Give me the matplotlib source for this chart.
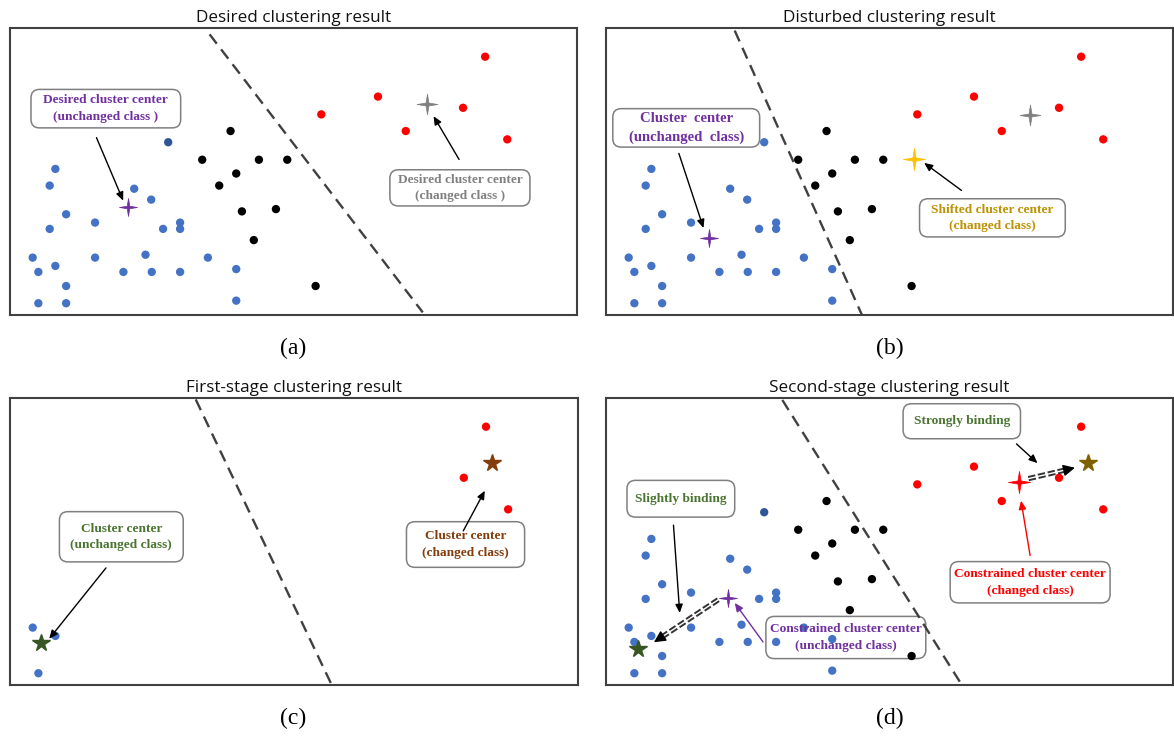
import matplotlib
matplotlib.use("Agg")
import matplotlib.pyplot as plt
from matplotlib.patches import FancyBboxPatch
from matplotlib.path import Path
import numpy as np

# ---------------- data (normalized frame coordinates 0..100) ----------------
blue_x = [27.9, 8.0, 7.0, 21.9, 24.9, 9.9, 15.0, 7.0, 27.0, 30.0, 30.0, 4.0, 15.0,
          23.9, 34.9, 8.0, 5.0, 20.0, 25.0, 30.0, 39.9, 9.9, 5.0, 9.9, 39.9]
blue_y = [60.2, 50.9, 45.1, 44.0, 40.2, 35.1, 32.2, 30.0, 30.0, 32.2, 30.0, 20.0, 20.0,
          21.0, 20.0, 17.1, 15.0, 15.0, 15.0, 15.0, 16.0, 10.1, 4.1, 4.1, 5.0]
black_x = [38.9, 33.9, 43.9, 48.9, 39.9, 36.9, 40.9, 46.9, 43.0, 53.9]
black_y = [64.1, 54.1, 54.1, 54.1, 49.3, 45.1, 36.1, 36.9, 26.1, 10.1]
red_x = [83.8, 64.9, 54.9, 79.9, 69.8, 87.7]
red_y = [90.0, 76.1, 69.9, 72.2, 64.1, 61.2]

# first-stage subsets
blue_c_x = [4.0, 8.0, 5.0]
blue_c_y = [20.0, 17.1, 4.1]
red_c_x = [83.8, 79.9, 87.7]
red_c_y = [90.0, 72.2, 61.2]

# cluster centres per panel
center_a_purple = (20.8, 37.6)
center_a_gray = (73.5, 73.4)
center_b_purple = (18.2, 27.0)
center_b_gray = (74.8, 69.6)
center_b_gold = (54.4, 54.3)
center_c_green = (5.5, 14.8)
center_c_brown = (84.8, 77.5)
center_d_purple = (21.6, 30.3)
center_d_green = (5.7, 12.7)
center_d_red = (72.9, 70.8)
center_d_olive = (85.0, 77.3)

# decision boundaries (start, end)
bound_a = [(35.2, 97.8), (72.8, 0.9)]
bound_b = [(22.7, 99.1), (45.1, 0.2)]
bound_c = [(32.7, 99.5), (56.5, 0.6)]
bound_d = [(31.1, 99.3), (62.7, 0.2)]

titles = ["Desired clustering result", "Disturbed clustering result",
          "First-stage clustering result", "Second-stage clustering result"]
panel_labels = ["(a)", "(b)", "(c)", "(d)"]

# ---------------- style ----------------
BLUE = "#4472C4"
DARKBLUE = "#2F5597"
RED = "#FF0000"
PURPLE = "#7030A0"
GRAY = "#808080"
GOLD = "#FFC000"
GOLDTXT = "#BF9000"
GREENTXT = "#4A7530"
GREENSTAR = "#375623"
BROWN = "#843C0C"
OLIVE = "#7F6000"
FRAME = "#404040"

SERIF = ["Liberation Serif", "DejaVu Serif"]
SANS = ["Open Sans", "DejaVu Sans"]

W, H = 1174, 737
fig = plt.figure(figsize=(W / 100, H / 100), dpi=100)

rects = [(10, 28, 567, 287), (606, 28, 567, 287), (10, 398, 568, 287), (606, 398, 567, 287)]
label_pos = [(293, 348), (890, 348), (293, 718), (890, 718)]
box_aspect = {}

# 4-point star marker
s_in = 0.14
cross_path = Path([(0, 1), (s_in, s_in), (1, 0), (s_in, -s_in), (0, -1), (-s_in, -s_in),
                   (-1, 0), (-s_in, s_in), (0, 1)],
                  [Path.MOVETO] + [Path.LINETO] * 7 + [Path.CLOSEPOLY])


def make_ax(i):
    x0, y0, w, h = rects[i]
    ax = fig.add_axes([x0 / W, 1 - (y0 + h) / H, w / W, h / H])
    ax.set_xlim(0, 100)
    ax.set_ylim(0, 100)
    ax.set_xticks([])
    ax.set_yticks([])
    for sp in ax.spines.values():
        sp.set_color(FRAME)
        sp.set_linewidth(1.5)
    ax.set_title(titles[i], fontsize=12.3, family=SANS, pad=4, color="#111111")
    lx, ly = label_pos[i]
    fig.text(lx / W, 1 - ly / H, panel_labels[i], fontsize=17, family=SERIF,
             ha="center", va="center")
    box_aspect[ax] = (w / 100) / (h / 100)
    return ax


def boundary(ax, b):
    (xa, ya), (xb, yb) = b
    ax.plot([xa, xb], [ya, yb], color="#404040", lw=1.7, ls=(0, (5, 3)), zorder=2)


def dots(ax, xs, ys, color, first_color=None):
    cols = [color] * len(xs)
    if first_color is not None:
        cols[0] = first_color
    ax.scatter(xs, ys, s=36, c=cols, marker="o", linewidths=0, zorder=3)


def cross(ax, p, color, size):
    ax.plot([p[0]], [p[1]], marker=cross_path, ms=size, color=color, mec=color, mew=0.5,
            ls="none", zorder=4)


def star(ax, p, color, size=13):
    ax.plot([p[0]], [p[1]], marker="*", ms=size, color=color, mec=color, ls="none", zorder=4)


def box(ax, ext, text, color, fs=9.6):
    u0, u1, v0, v1 = ext
    p = FancyBboxPatch((u0, v0), u1 - u0, v1 - v0,
                       boxstyle="round,pad=0,rounding_size=1.5",
                       mutation_aspect=box_aspect[ax], fc="white", ec="#7F7F7F", lw=1.1,
                       zorder=1)
    ax.add_patch(p)
    ax.text((u0 + u1) / 2, (v0 + v1) / 2, text, color=color, fontsize=fs, family=SERIF,
            weight="bold", ha="center", va="center", linespacing=1.5, zorder=6)


def arrow(ax, start, end, color="black", lw=1.0):
    ax.annotate("", xy=end, xytext=start,
                arrowprops=dict(arrowstyle="-|>,head_length=0.5,head_width=0.22",
                                color=color, lw=lw, shrinkA=0, shrinkB=0), zorder=5)


def double_arrow(ax, start, end):
    sx, sy = start
    ex, ey = end
    f = 0.86
    mx, my = sx + (ex - sx) * f, sy + (ey - sy) * f
    ax.plot([sx, mx], [sy, my], color="#333333", lw=3.8, ls=(0, (1.4, 0.5)),
            solid_capstyle="butt", zorder=5)
    ax.plot([sx, mx], [sy, my], color="white", lw=1.0, zorder=5)
    ax.annotate("", xy=end, xytext=(mx, my),
                arrowprops=dict(arrowstyle="-|>,head_length=0.7,head_width=0.35",
                                color="black", lw=1.0, shrinkA=0, shrinkB=0), zorder=5)


# ---------------- (a) ----------------
ax = make_ax(0)
boundary(ax, bound_a)
dots(ax, blue_x, blue_y, BLUE, DARKBLUE)
dots(ax, black_x, black_y, "black")
dots(ax, red_x, red_y, RED)
cross(ax, center_a_purple, PURPLE, 13)
cross(ax, center_a_gray, GRAY, 15)
box(ax, (3.7, 30.1, 65.2, 78.6), "Desired cluster center\n(unchanged class )", PURPLE)
arrow(ax, (15.25, 61.8), (19.96, 39.84))
box(ax, (67.0, 91.7, 38.0, 50.6), "Desired cluster center\n(changed class )", GRAY)
arrow(ax, (79.2, 54.2), (74.7, 69.3))

# ---------------- (b) ----------------
ax = make_ax(1)
boundary(ax, bound_b)
dots(ax, blue_x, blue_y, BLUE)
dots(ax, black_x, black_y, "black")
dots(ax, red_x, red_y, RED)
cross(ax, center_b_purple, PURPLE, 13)
cross(ax, center_b_gray, GRAY, 15)
cross(ax, center_b_gold, GOLD, 16)
box(ax, (1.2, 27.1, 58.5, 71.9), "Cluster  center\n(unchanged  class)", PURPLE, fs=10.6)
arrow(ax, (12.85, 56.3), (17.2, 30.3))
box(ax, (55.3, 81.0, 27.2, 40.5), "Shifted cluster center\n(changed class)", GOLDTXT)
arrow(ax, (62.7, 43.4), (56.1, 53.0))

# ---------------- (c) ----------------
ax = make_ax(2)
boundary(ax, bound_c)
dots(ax, blue_c_x, blue_c_y, BLUE)
dots(ax, red_c_x, red_c_y, RED)
star(ax, center_c_green, GREENSTAR)
star(ax, center_c_brown, BROWN)
box(ax, (8.7, 30.5, 42.9, 60.4), "Cluster center\n(unchanged class)", GREENTXT)
arrow(ax, (16.9, 40.8), (6.9, 16.1))
box(ax, (69.8, 90.6, 41.0, 56.9), "Cluster center\n(changed class)", BROWN)
arrow(ax, (79.8, 53.7), (83.6, 67.7))

# ---------------- (d) ----------------
ax = make_ax(3)
box(ax, (28.2, 56.4, 9.2, 23.9), "Constrained cluster center\n(unchanged class)", PURPLE)
boundary(ax, bound_d)
dots(ax, blue_x, blue_y, BLUE, DARKBLUE)
dots(ax, black_x, black_y, "black")
dots(ax, red_x, red_y, RED)
cross(ax, center_d_purple, PURPLE, 13)
cross(ax, center_d_red, RED, 16)
star(ax, center_d_green, GREENSTAR)
star(ax, center_d_olive, OLIVE)
box(ax, (52.4, 73.1, 85.8, 98.0), "Strongly binding", GREENTXT)
arrow(ax, (72.4, 84.0), (76.1, 77.3))
box(ax, (3.7, 22.7, 58.5, 71.3), "Slightly binding", GREENTXT)
arrow(ax, (11.9, 55.7), (13.0, 25.1))
box(ax, (60.7, 88.9, 28.6, 43.0), "Constrained cluster center\n(changed class)", RED)
arrow(ax, (74.8, 45.1), (73.2, 64.2), color=RED)
arrow(ax, (27.7, 15.0), (22.7, 28.6), color=PURPLE)
double_arrow(ax, (19.8, 29.7), (8.45, 14.9))
double_arrow(ax, (74.5, 71.9), (82.7, 75.7))

fig.savefig("out.png", dpi=100)
